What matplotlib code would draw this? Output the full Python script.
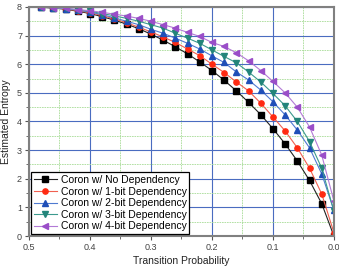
import numpy as np
import matplotlib
matplotlib.use('Agg')
import matplotlib.pyplot as plt
from matplotlib.ticker import MultipleLocator

plt.rcParams['font.family'] = ['Liberation Sans', 'DejaVu Sans']

# transition probability (x axis runs 0.5 -> 0.0)
prob = [0.00, 0.02, 0.04, 0.06, 0.08, 0.10, 0.12, 0.14, 0.16, 0.18, 0.20, 0.22,
        0.24, 0.26, 0.28, 0.30, 0.32, 0.34, 0.36, 0.38, 0.40, 0.42, 0.44, 0.46, 0.48]

no_dep = [0.00, 1.13, 1.94, 2.62, 3.22, 3.75, 4.24, 4.67, 5.07, 5.44, 5.78, 6.08,
          6.36, 6.61, 6.84, 7.05, 7.24, 7.40, 7.54, 7.66, 7.77, 7.85, 7.92, 7.96, 7.99]
dep1 = [0.12, 1.47, 2.37, 3.08, 3.67, 4.16, 4.64, 5.07, 5.38, 5.71, 6.00, 6.30,
        6.53, 6.76, 6.95, 7.13, 7.29, 7.45, 7.58, 7.70, 7.80, 7.87, 7.93, 7.97, 7.99]
dep2 = [0.90, 2.17, 3.08, 3.70, 4.23, 4.69, 5.10, 5.45, 5.73, 6.06, 6.29, 6.53,
        6.73, 6.91, 7.08, 7.22, 7.38, 7.50, 7.62, 7.73, 7.82, 7.89, 7.94, 7.97, 7.99]
dep3 = [0.87, 2.37, 3.30, 4.00, 4.55, 4.98, 5.38, 5.73, 6.05, 6.27, 6.50, 6.73,
        6.91, 7.08, 7.26, 7.38, 7.50, 7.60, 7.69, 7.77, 7.85, 7.90, 7.95, 7.98, 7.99]
dep4 = [1.22, 2.83, 3.81, 4.50, 5.00, 5.40, 5.78, 6.12, 6.40, 6.62, 6.76, 6.97,
        7.11, 7.26, 7.38, 7.50, 7.60, 7.68, 7.75, 7.81, 7.87, 7.91, 7.95, 7.98, 7.99]

series = [
    ('Coron w/ No Dependency', no_dep, 's', '#000000', '#222222'),
    ('Coron w/ 1-bit Dependency', dep1, 'o', '#ff2a12', '#f06050'),
    ('Coron w/ 2-bit Dependency', dep2, '^', '#1f4fb8', '#4f7ad0'),
    ('Coron w/ 3-bit Dependency', dep3, 'v', '#23857a', '#3c9a8e'),
    ('Coron w/ 4-bit Dependency', dep4, '<', '#9a4ec8', '#b27ad6'),
]

fig = plt.figure(figsize=(3.39, 2.67), dpi=100)
ax = fig.add_axes([0.0855, 0.116, 0.8995, 0.858])

for label, vals, mk, mc, lc in series:
    ax.plot(prob, vals, color=lc, lw=0.8, marker=mk, ms=3.8,
            markerfacecolor=mc, markeredgecolor=mc, label=label)

ax.set_xlim(0.5, 0.0)
ax.set_ylim(0, 8)
ax.xaxis.set_major_locator(MultipleLocator(0.1))
ax.xaxis.set_minor_locator(MultipleLocator(0.05))
ax.yaxis.set_major_locator(MultipleLocator(1))
ax.yaxis.set_minor_locator(MultipleLocator(0.5))

ax.grid(which='major', color='#4a6cc0', lw=0.8)
ax.grid(which='minor', color='#a8dc98', lw=0.6, ls=(0, (2, 1)))
ax.set_axisbelow(True)

for s in ax.spines.values():
    s.set_color('#808080')
    s.set_linewidth(1.5)

ax.tick_params(which='both', direction='out', colors='#555555', labelsize=6.5,
               labelcolor='#444444', pad=2)
ax.tick_params(which='major', length=3, width=0.8)
ax.tick_params(which='minor', length=2, width=0.6)
ax.set_xticks([0.5, 0.4, 0.3, 0.2, 0.1, 0.0])
ax.set_xticklabels(['0.5', '0.4', '0.3', '0.2', '0.1', '0.0'])

ax.set_xlabel('Transition Probability', fontsize=7.5, color='#222222', labelpad=3)
ax.set_ylabel('Estimated Entropy', fontsize=7.5, color='#222222', labelpad=4)

leg = ax.legend(loc='lower left', fontsize=7.5, numpoints=1, handlelength=2.2,
                handletextpad=0.4, labelspacing=0.15, borderpad=0.25,
                borderaxespad=0.2, fancybox=False, framealpha=1)
leg.get_frame().set_edgecolor('#000000')
leg.get_frame().set_linewidth(0.9)

plt.savefig('out.png', dpi=100)
